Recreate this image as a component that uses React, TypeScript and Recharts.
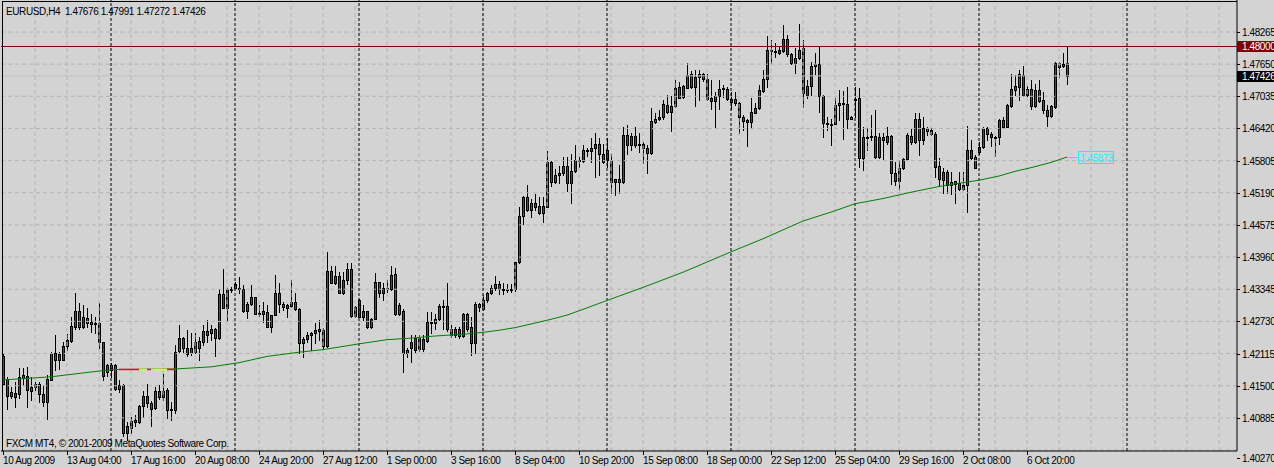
import {
  ComposedChart,
  Bar,
  Line,
  XAxis,
  YAxis,
  ReferenceLine,
  ReferenceDot,
} from 'recharts';

// EURUSD H4 bars, 10 Aug - 7 Oct 2009
const opens = [
  1.4207, 1.4162, 1.4130, 1.4136, 1.4135, 1.4164, 1.4168, 1.4140, 1.4147, 1.4154,
  1.4135, 1.4119, 1.4161, 1.4213, 1.4211, 1.4200, 1.4225, 1.4236, 1.4263, 1.4293,
  1.4263, 1.4279, 1.4268, 1.4269, 1.4269, 1.4234, 1.4177, 1.4180, 1.4190, 1.4144,
  1.4152, 1.4059, 1.4070, 1.4081, 1.4081, 1.4111, 1.4130, 1.4116, 1.4107, 1.4140,
  1.4128, 1.4142, 1.4104, 1.4104, 1.4216, 1.4241, 1.4223, 1.4212, 1.4215, 1.4223,
  1.4234, 1.4247, 1.4258, 1.4258, 1.4242, 1.4325, 1.4298, 1.4334, 1.4344, 1.4336,
  1.4334, 1.4293, 1.4307, 1.4319, 1.4288, 1.4288, 1.4290, 1.4263, 1.4285, 1.4328,
  1.4307, 1.4299, 1.4303, 1.4310, 1.4296, 1.4231, 1.4239, 1.4247, 1.4251, 1.4255,
  1.4257, 1.4226, 1.4369, 1.4347, 1.4360, 1.4328, 1.4353, 1.4373, 1.4284, 1.4314,
  1.4282, 1.4292, 1.4262, 1.4277, 1.4348, 1.4328, 1.4336, 1.4334, 1.4364, 1.4287,
  1.4293, 1.4213, 1.4222, 1.4218, 1.4242, 1.4221, 1.4236, 1.4272, 1.4270, 1.4277,
  1.4302, 1.4303, 1.4258, 1.4247, 1.4258, 1.4245, 1.4287, 1.4263, 1.4232, 1.4307,
  1.4296, 1.4314, 1.4328, 1.4336, 1.4344, 1.4335, 1.4335, 1.4334, 1.4335, 1.4386,
  1.4474, 1.4511, 1.4487, 1.4499, 1.4494, 1.4481, 1.4492, 1.4578, 1.4540, 1.4553,
  1.4556, 1.4570, 1.4538, 1.4561, 1.4582, 1.4580, 1.4600, 1.4598, 1.4604, 1.4612,
  1.4593, 1.4601, 1.4582, 1.4540, 1.4545, 1.4540, 1.4629, 1.4610, 1.4627, 1.4611,
  1.4613, 1.4605, 1.4596, 1.4655, 1.4661, 1.4663, 1.4687, 1.4674, 1.4685, 1.4721,
  1.4702, 1.4720, 1.4746, 1.4722, 1.4741, 1.4746, 1.4737, 1.4700, 1.4695, 1.4704,
  1.4717, 1.4717, 1.4693, 1.4698, 1.4691, 1.4664, 1.4658, 1.4654, 1.4672, 1.4682,
  1.4714, 1.4736, 1.4792, 1.4790, 1.4787, 1.4791, 1.4814, 1.4784, 1.4768, 1.4776,
  1.4795, 1.4706, 1.4723, 1.4761, 1.4765, 1.4704, 1.4652, 1.4650, 1.4651, 1.4686,
  1.4690, 1.4689, 1.4661, 1.4696, 1.4701, 1.4585, 1.4626, 1.4626, 1.4627, 1.4588,
  1.4626, 1.4617, 1.4627, 1.4556, 1.4542, 1.4567, 1.4583, 1.4627, 1.4617, 1.4661,
  1.4620, 1.4642, 1.4639, 1.4632, 1.4570, 1.4543, 1.4559, 1.4534, 1.4541, 1.4537,
  1.4527, 1.4533, 1.4601, 1.4588, 1.4597, 1.4606, 1.4642, 1.4632, 1.4626, 1.4625,
  1.4659, 1.4645, 1.4685, 1.4716, 1.4722, 1.4744, 1.4706, 1.4717, 1.4685, 1.4716,
  1.4696, 1.4678, 1.4666, 1.4684, 1.4767, 1.4762, 1.47676,
];

const highs = [
  1.4211, 1.4167, 1.4148, 1.4158, 1.4183, 1.4184, 1.4185, 1.4167, 1.4158, 1.4158,
  1.4151, 1.4170, 1.4215, 1.4247, 1.4215, 1.4234, 1.4249, 1.4282, 1.4328, 1.4309,
  1.4304, 1.4298, 1.4288, 1.4282, 1.4308, 1.4234, 1.4191, 1.4193, 1.4191, 1.4161,
  1.4153, 1.4081, 1.4091, 1.4094, 1.4113, 1.4139, 1.4154, 1.4121, 1.4148, 1.4151,
  1.4172, 1.4145, 1.4119, 1.4228, 1.4266, 1.4244, 1.4257, 1.4251, 1.4250, 1.4244,
  1.4267, 1.4276, 1.4266, 1.4260, 1.4334, 1.4374, 1.4336, 1.4339, 1.4349, 1.4358,
  1.4343, 1.4311, 1.4343, 1.4320, 1.4304, 1.4311, 1.4304, 1.4285, 1.4362, 1.4346,
  1.4311, 1.4307, 1.4352, 1.4327, 1.4298, 1.4244, 1.4253, 1.4253, 1.4269, 1.4276,
  1.4260, 1.4406, 1.4378, 1.4378, 1.4368, 1.4368, 1.4385, 1.4385, 1.4302, 1.4315,
  1.4304, 1.4292, 1.4279, 1.4366, 1.4349, 1.4347, 1.4352, 1.4378, 1.4376, 1.4309,
  1.4296, 1.4223, 1.4247, 1.4247, 1.4247, 1.4247, 1.4291, 1.4291, 1.4288, 1.4307,
  1.4314, 1.4346, 1.4266, 1.4263, 1.4263, 1.4289, 1.4289, 1.4282, 1.4311, 1.4309,
  1.4323, 1.4330, 1.4342, 1.4360, 1.4350, 1.4346, 1.4344, 1.4345, 1.4387, 1.4491,
  1.4513, 1.4534, 1.4508, 1.4517, 1.4510, 1.4511, 1.4599, 1.4580, 1.4564, 1.4570,
  1.4587, 1.4587, 1.4594, 1.4610, 1.4587, 1.4610, 1.4604, 1.4623, 1.4633, 1.4623,
  1.4612, 1.4623, 1.4594, 1.4546, 1.4572, 1.4645, 1.4649, 1.4633, 1.4644, 1.4634,
  1.4617, 1.4610, 1.4682, 1.4671, 1.4677, 1.4696, 1.4706, 1.4704, 1.4735, 1.4731,
  1.4725, 1.4767, 1.4751, 1.4754, 1.4754, 1.4749, 1.4746, 1.4735, 1.4712, 1.4735,
  1.4726, 1.4722, 1.4712, 1.4712, 1.4693, 1.4668, 1.4661, 1.4700, 1.4690, 1.4725,
  1.4754, 1.4819, 1.4812, 1.4805, 1.4800, 1.4840, 1.4821, 1.4786, 1.4795, 1.4842,
  1.4811, 1.4735, 1.4770, 1.4786, 1.4800, 1.4706, 1.4664, 1.4661, 1.4701, 1.4716,
  1.4713, 1.4722, 1.4666, 1.4722, 1.4719, 1.4645, 1.4642, 1.4668, 1.4677, 1.4633,
  1.4633, 1.4645, 1.4629, 1.4578, 1.4582, 1.4585, 1.4633, 1.4642, 1.4671, 1.4671,
  1.4663, 1.4645, 1.4642, 1.4636, 1.4585, 1.4566, 1.4562, 1.4559, 1.4542, 1.4559,
  1.4559, 1.4647, 1.4620, 1.4591, 1.4617, 1.4645, 1.4645, 1.4636, 1.4627, 1.4661,
  1.4663, 1.4689, 1.4747, 1.4744, 1.4753, 1.4761, 1.4723, 1.4735, 1.4728, 1.4735,
  1.4712, 1.4687, 1.4687, 1.4770, 1.4770, 1.4786, 1.47991,
];

const lows = [
  1.4151, 1.4105, 1.4126, 1.4110, 1.4126, 1.4151, 1.4110, 1.4123, 1.4142, 1.4119,
  1.4111, 1.4086, 1.4161, 1.4180, 1.4181, 1.4199, 1.4218, 1.4234, 1.4258, 1.4258,
  1.4260, 1.4263, 1.4253, 1.4250, 1.4222, 1.4161, 1.4169, 1.4167, 1.4142, 1.4138,
  1.4053, 1.4046, 1.4059, 1.4072, 1.4078, 1.4091, 1.4110, 1.4072, 1.4105, 1.4124,
  1.4123, 1.4088, 1.4084, 1.4097, 1.4215, 1.4212, 1.4207, 1.4209, 1.4212, 1.4200,
  1.4228, 1.4234, 1.4237, 1.4207, 1.4240, 1.4298, 1.4274, 1.4330, 1.4334, 1.4327,
  1.4291, 1.4279, 1.4304, 1.4287, 1.4283, 1.4272, 1.4262, 1.4253, 1.4285, 1.4290,
  1.4295, 1.4281, 1.4301, 1.4295, 1.4212, 1.4205, 1.4234, 1.4218, 1.4231, 1.4237,
  1.4221, 1.4224, 1.4346, 1.4344, 1.4327, 1.4325, 1.4344, 1.4281, 1.4282, 1.4281,
  1.4276, 1.4260, 1.4260, 1.4277, 1.4320, 1.4313, 1.4330, 1.4333, 1.4285, 1.4286,
  1.4177, 1.4204, 1.4195, 1.4214, 1.4216, 1.4216, 1.4234, 1.4250, 1.4259, 1.4275,
  1.4259, 1.4255, 1.4244, 1.4244, 1.4242, 1.4244, 1.4255, 1.4209, 1.4212, 1.4293,
  1.4295, 1.4311, 1.4326, 1.4333, 1.4325, 1.4326, 1.4329, 1.4329, 1.4332, 1.4384,
  1.4459, 1.4485, 1.4472, 1.4486, 1.4478, 1.4464, 1.4491, 1.4531, 1.4537, 1.4538,
  1.4553, 1.4523, 1.4500, 1.4559, 1.4569, 1.4577, 1.4589, 1.4578, 1.4550, 1.4553,
  1.4576, 1.4569, 1.4518, 1.4515, 1.4519, 1.4538, 1.4594, 1.4601, 1.4607, 1.4597,
  1.4576, 1.4557, 1.4594, 1.4652, 1.4659, 1.4661, 1.4672, 1.4638, 1.4683, 1.4700,
  1.4700, 1.4719, 1.4719, 1.4685, 1.4696, 1.4733, 1.4696, 1.4680, 1.4643, 1.4679,
  1.4703, 1.4696, 1.4680, 1.4687, 1.4634, 1.4639, 1.4608, 1.4645, 1.4671, 1.4680,
  1.4712, 1.4722, 1.4767, 1.4779, 1.4785, 1.4789, 1.4781, 1.4765, 1.4749, 1.4774,
  1.4684, 1.4701, 1.4706, 1.4747, 1.4674, 1.4625, 1.4639, 1.4610, 1.4650, 1.4659,
  1.4621, 1.4642, 1.4660, 1.4664, 1.4569, 1.4562, 1.4601, 1.4620, 1.4585, 1.4586,
  1.4583, 1.4613, 1.4536, 1.4534, 1.4527, 1.4564, 1.4582, 1.4613, 1.4615, 1.4591,
  1.4613, 1.4629, 1.4629, 1.4550, 1.4531, 1.4518, 1.4518, 1.4516, 1.4500, 1.4525,
  1.4525, 1.4483, 1.4583, 1.4566, 1.4594, 1.4604, 1.4620, 1.4608, 1.4589, 1.4613,
  1.4644, 1.4644, 1.4684, 1.4706, 1.4696, 1.4704, 1.4704, 1.4679, 1.4684, 1.4693,
  1.4671, 1.4647, 1.4663, 1.4682, 1.4740, 1.4760, 1.47272,
];

const closes = [
  1.4154, 1.4131, 1.4138, 1.4129, 1.4166, 1.4170, 1.4142, 1.4148, 1.4154, 1.4135,
  1.4118, 1.4162, 1.4213, 1.4200, 1.4200, 1.4226, 1.4237, 1.4264, 1.4293, 1.4263,
  1.4281, 1.4269, 1.4272, 1.4270, 1.4234, 1.4169, 1.4190, 1.4190, 1.4144, 1.4151,
  1.4059, 1.4073, 1.4083, 1.4084, 1.4111, 1.4130, 1.4116, 1.4105, 1.4140, 1.4128,
  1.4140, 1.4104, 1.4106, 1.4215, 1.4241, 1.4223, 1.4211, 1.4223, 1.4234, 1.4236,
  1.4255, 1.4255, 1.4251, 1.4242, 1.4325, 1.4298, 1.4334, 1.4334, 1.4336, 1.4337,
  1.4293, 1.4307, 1.4319, 1.4288, 1.4289, 1.4292, 1.4263, 1.4285, 1.4328, 1.4307,
  1.4301, 1.4304, 1.4310, 1.4296, 1.4231, 1.4239, 1.4247, 1.4251, 1.4256, 1.4258,
  1.4225, 1.4369, 1.4347, 1.4360, 1.4328, 1.4353, 1.4373, 1.4283, 1.4301, 1.4282,
  1.4292, 1.4262, 1.4277, 1.4348, 1.4328, 1.4336, 1.4335, 1.4362, 1.4287, 1.4304,
  1.4213, 1.4218, 1.4234, 1.4242, 1.4221, 1.4240, 1.4272, 1.4272, 1.4277, 1.4302,
  1.4303, 1.4258, 1.4247, 1.4258, 1.4245, 1.4287, 1.4258, 1.4231, 1.4307, 1.4301,
  1.4314, 1.4328, 1.4336, 1.4344, 1.4335, 1.4335, 1.4334, 1.4335, 1.4386, 1.4474,
  1.4511, 1.4487, 1.4499, 1.4492, 1.4481, 1.4494, 1.4578, 1.4540, 1.4553, 1.4557,
  1.4570, 1.4537, 1.4561, 1.4582, 1.4580, 1.4601, 1.4599, 1.4605, 1.4612, 1.4593,
  1.4578, 1.4582, 1.4540, 1.4545, 1.4540, 1.4629, 1.4610, 1.4627, 1.4610, 1.4612,
  1.4605, 1.4596, 1.4656, 1.4661, 1.4664, 1.4689, 1.4674, 1.4685, 1.4719, 1.4701,
  1.4723, 1.4744, 1.4722, 1.4740, 1.4746, 1.4737, 1.4699, 1.4695, 1.4705, 1.4717,
  1.4719, 1.4699, 1.4698, 1.4690, 1.4663, 1.4657, 1.4654, 1.4673, 1.4682, 1.4716,
  1.4736, 1.4792, 1.4791, 1.4788, 1.4793, 1.4814, 1.4784, 1.4768, 1.4777, 1.4793,
  1.4709, 1.4723, 1.4761, 1.4765, 1.4704, 1.4652, 1.4650, 1.4651, 1.4687, 1.4690,
  1.4689, 1.4661, 1.4664, 1.4699, 1.4585, 1.4626, 1.4626, 1.4627, 1.4588, 1.4626,
  1.4619, 1.4627, 1.4556, 1.4541, 1.4567, 1.4583, 1.4629, 1.4617, 1.4661, 1.4620,
  1.4642, 1.4638, 1.4632, 1.4569, 1.4545, 1.4558, 1.4534, 1.4539, 1.4536, 1.4527,
  1.4534, 1.4601, 1.4586, 1.4567, 1.4607, 1.4642, 1.4631, 1.4625, 1.4626, 1.4659,
  1.4645, 1.4687, 1.4717, 1.4723, 1.4746, 1.4706, 1.4717, 1.4685, 1.4716, 1.4695,
  1.4677, 1.4666, 1.4685, 1.4768, 1.4760, 1.4765, 1.47426,
];

// moving average, read at a set of bars
const maBars = [
  0, 12, 24, 28, 43, 52, 59, 66, 74, 80, 89, 96, 102, 108, 116, 120, 124, 128, 132, 137,
  141, 145, 151, 160, 170, 182, 190, 200, 207, 213, 220, 227, 234, 238, 244, 249, 253, 257,
  262, 266,
];
const maValues = [
  1.4161, 1.4167, 1.4178, 1.4181, 1.4182, 1.4186, 1.4194, 1.4206, 1.4214, 1.4219,
  1.4230, 1.4238, 1.4241, 1.4245, 1.4249, 1.4252, 1.4256, 1.4261, 1.4268, 1.4277,
  1.4285, 1.4296, 1.4313, 1.4338, 1.4367, 1.4406, 1.4431, 1.4465, 1.4482, 1.4498,
  1.4508, 1.4520, 1.4531, 1.4536, 1.4543, 1.4551, 1.4560, 1.4567, 1.4577, 1.45873,
];

// stretch where the average changes colour
const trendFrom = [29, 34, 36, 37, 41];
const trendTo = [34, 36, 37, 41, 43];
const trendKind = ['down', 'flat', 'down', 'flat', 'down'];
const trendLevel = 1.4181;

const dateTicks = [0, 16, 32, 48, 64, 80, 96, 112, 128, 144, 160, 176, 192, 208, 224, 240, 256];
const dateLabels = [
  '10 Aug 2009', '13 Aug 04:00', '17 Aug 16:00', '20 Aug 08:00', '24 Aug 20:00',
  '27 Aug 12:00', '1 Sep 00:00', '3 Sep 16:00', '8 Sep 04:00', '10 Sep 20:00',
  '15 Sep 08:00', '18 Sep 00:00', '22 Sep 12:00', '25 Sep 04:00', '29 Sep 16:00',
  '2 Oct 08:00', '6 Oct 20:00',
];

const priceTicks = [
  1.48265, 1.4765, 1.47035, 1.4642, 1.45805, 1.4519, 1.44575, 1.4396, 1.43345, 1.4273,
  1.42115, 1.415, 1.40885, 1.4027,
];

const weekStarts = [27, 58, 89, 120, 151, 182, 213, 244, 281];

const hLineLevel = 1.48;
const bid = 1.47426;
const maLast = 1.45873;

const SLOTS = 309; // bars plus the empty space on the right
const FONT = '"Liberation Sans", Arial, sans-serif';

const maByBar = new Map(maBars.map((b, k) => [b, maValues[k]]));

const data = Array.from({ length: SLOTS }, (_, i) => {
  const has = i < opens.length;
  return {
    i,
    range: has ? [lows[i], highs[i]] : null,
    o: has ? opens[i] : null,
    h: has ? highs[i] : null,
    l: has ? lows[i] : null,
    c: has ? closes[i] : null,
    ma: maByBar.has(i) ? maByBar.get(i) : null,
  };
});

const gridBars: number[] = [];
for (let i = 8; i < SLOTS; i += 8) gridBars.push(i);

const Candle = (props: any) => {
  const { x, y, width, height, payload } = props;
  if (payload == null || payload.h == null) return null;
  const cx = Math.round(x + width / 2);
  const k = height / (payload.h - payload.l);
  const yo = y + (payload.h - payload.o) * k;
  const yc = y + (payload.h - payload.c) * k;
  const top = Math.round(Math.min(yo, yc));
  const bot = Math.max(Math.round(Math.max(yo, yc)), top + 1);
  const up = payload.c >= payload.o;
  return (
    <g>
      <line
        x1={cx + 0.5}
        x2={cx + 0.5}
        y1={Math.round(y)}
        y2={Math.round(y + height) + 1}
        stroke="#000"
        strokeWidth={1}
      />
      <rect
        x={cx - 0.5}
        y={top + 0.5}
        width={2}
        height={bot - top}
        fill={up ? '#008000' : '#ff0000'}
        stroke="#000"
        strokeWidth={1}
      />
    </g>
  );
};

const DateTick = (props: any) => {
  const { x, y, payload } = props;
  const idx = dateTicks.indexOf(payload.value);
  if (idx < 0) return null;
  return (
    <g>
      <line x1={x + 0.5} x2={x + 0.5} y1={y} y2={y + 4} stroke="#000" />
      <text x={x} y={y + 13} fontFamily={FONT} fontSize={10} letterSpacing={-0.4} fill="#000">
        {dateLabels[idx]}
      </text>
    </g>
  );
};

const PriceTick = (props: any) => {
  const { x, y, payload } = props;
  const v = payload.value;
  const label = v.toFixed(5);
  if (v === hLineLevel || v === bid) {
    return (
      <g>
        <rect x={x} y={Math.round(y) - 5} width={40} height={11} fill={v === bid ? '#000' : '#800000'} />
        <text x={x + 5} y={y + 4} fontFamily={FONT} fontSize={10} letterSpacing={-0.4} fill="#fff">
          {label}
        </text>
      </g>
    );
  }
  // the lowest label sits under the frame, as the terminal draws it
  const ty = y > 446 ? y + 8 : y;
  return (
    <g>
      <line x1={x} x2={x + 3} y1={Math.round(ty) + 0.5} y2={Math.round(ty) + 0.5} stroke="#000" />
      <text x={x + 5} y={ty + 4} fontFamily={FONT} fontSize={10} letterSpacing={-0.4} fill="#000">
        {label}
      </text>
    </g>
  );
};

const MarkedLine = (props: any) => {
  const { x1, x2, y1 } = props;
  const yy = Math.round(y1) + 0.5;
  return (
    <g>
      <line x1={x1} x2={x2} y1={yy} y2={yy} stroke="#800000" strokeWidth={1} />
      <rect x={x1 + 2.5} y={yy - 2} width={4} height={4} fill="#fff" stroke="#000" />
      <rect x={x2 - 6.5} y={yy - 2} width={4} height={4} fill="#fff" stroke="#000" />
    </g>
  );
};

const MaLabel = (props: any) => {
  const { cx, cy } = props;
  const yy = Math.round(cy) + 0.5;
  return (
    <g>
      <line x1={cx} x2={cx + 11} y1={yy} y2={yy} stroke="#00ffff" />
      <rect x={cx + 11.5} y={yy - 6} width={35} height={12} fill="none" stroke="#00ffff" />
      <text x={cx + 13} y={yy + 4} fontFamily={FONT} fontSize={10} letterSpacing={-0.5} fill="#00ffff">
        {maLast.toFixed(5)}
      </text>
    </g>
  );
};

export default function App() {
  return (
    <div style={{ position: 'absolute', left: 0, top: 0, width: 1274, height: 468, background: '#d3d3d3' }}>
      <ComposedChart
        width={1274}
        height={468}
        data={data}
        margin={{ top: 0, right: 0, bottom: 0, left: 1 }}
        barCategoryGap={0}
        barGap={0}
      >
        <XAxis
          dataKey="i"
          type="category"
          ticks={dateTicks}
          interval={0}
          height={17}
          tickSize={0}
          tickMargin={0}
          tickLine={false}
          axisLine={{ stroke: '#000' }}
          tick={(p: any) => <DateTick {...p} />}
        />
        <YAxis
          orientation="right"
          width={37}
          type="number"
          domain={[1.402509, 1.488771]}
          allowDataOverflow
          ticks={[...priceTicks, hLineLevel, bid]}
          interval={0}
          tickSize={0}
          tickMargin={0}
          tickLine={false}
          axisLine={{ stroke: '#000' }}
          tick={(p: any) => <PriceTick {...p} />}
        />
        {priceTicks.map((p) => (
          <ReferenceLine key={'h' + p} y={p} stroke="#b4b4b4" strokeDasharray="4 3" />
        ))}
        {gridBars.map((b) => (
          <ReferenceLine key={'v' + b} x={b} stroke="#b4b4b4" strokeDasharray="4 3" />
        ))}
        {weekStarts.map((b) => (
          <ReferenceLine key={'w' + b} x={b} stroke="#000" strokeDasharray="3 2" />
        ))}
        <ReferenceLine y={bid} stroke="#c0c0c0" />
        <Bar dataKey="range" barSize={4} shape={(p: any) => <Candle {...p} />} isAnimationActive={false} />
        <Line
          dataKey="ma"
          type="linear"
          stroke="#008000"
          strokeWidth={1}
          dot={false}
          connectNulls
          isAnimationActive={false}
        />
        {trendFrom.map((f, k) => (
          <ReferenceLine
            key={'t' + k}
            segment={[
              { x: f, y: trendLevel },
              { x: trendTo[k], y: trendLevel },
            ]}
            stroke={trendKind[k] === 'down' ? '#ff0000' : '#ffff00'}
            strokeWidth={1.5}
          />
        ))}
        <ReferenceLine y={hLineLevel} shape={(p: any) => <MarkedLine {...p} />} />
        <ReferenceDot x={266} y={maLast} r={0} shape={(p: any) => <MaLabel {...p} />} />
      </ComposedChart>
      <svg
        width={1274}
        height={468}
        style={{ position: 'absolute', left: 0, top: 0, pointerEvents: 'none' }}
      >
        <line x1={2.5} x2={2.5} y1={1} y2={451} stroke="#000" />
        <line x1={2} x2={1237} y1={1.5} y2={1.5} stroke="#000" />
        <text x={6} y={15} fontFamily={FONT} fontSize={10} letterSpacing={-0.4} fill="#000" style={{ whiteSpace: 'pre' }}>
          {'EURUSD,H4  1.47676 1.47991 1.47272 1.47426'}
        </text>
        <text x={6} y={447} fontFamily={FONT} fontSize={10} letterSpacing={-0.4} fill="#000">
          FXCM MT4, © 2001-2009 MetaQuotes Software Corp.
        </text>
      </svg>
    </div>
  );
}
